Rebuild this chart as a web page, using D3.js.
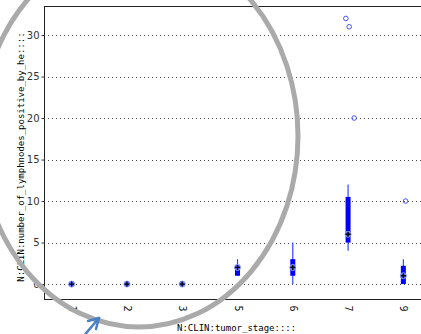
<!DOCTYPE html>
<html>
<head>
<meta charset="utf-8">
<script src="https://cdn.jsdelivr.net/npm/d3@7"></script>
<style>
  body { margin: 0; background: #fff; }
  svg { display: block; }
</style>
</head>
<body>
<svg id="chart" width="421" height="334"></svg>
<script>
// box plot data per tumor stage
let stages = ['1', '2', '3', '5', '6', '7', '9'];
let whiskerLow = [0, 0, 0, 1, 0, 4, 0];
let q1 = [0, 0, 0, 1, 1, 5, 0];
let median = [0, 0, 0, 2, 2, 6, 1];
let q3 = [0, 0, 0, 2.3, 3, 10.5, 2.2];
let whiskerHigh = [0, 0, 0, 3, 5, 12, 3];

// outliers (jitter is a fraction of the category step)
let outlierStage = ['7', '7', '7', '9'];
let outlierValue = [32, 31, 20, 10];
let outlierJitter = [-0.04, 0.02, 0.11, 0.04];

let yTicks = [0, 5, 10, 15, 20, 25, 30];

let svg = d3.select('#chart');

let plotLeft = 44, plotTop = 6, plotBottom = 299, plotRight = 431;

let x = d3.scalePoint()
  .domain(stages)
  .range([plotLeft, plotRight])
  .padding(0.5);

let y = d3.scaleLinear()
  .domain([-1.8, 33.5])
  .range([plotBottom, plotTop]);

// grid lines
svg.append('g')
  .selectAll('line')
  .data(yTicks)
  .enter()
  .append('line')
  .attr('x1', plotLeft)
  .attr('x2', 421)
  .attr('y1', d => Math.round(y(d)) + 0.5)
  .attr('y2', d => Math.round(y(d)) + 0.5)
  .attr('stroke', '#444')
  .attr('stroke-dasharray', '1,3');

// y axis
let yAxis = svg.append('g')
  .attr('transform', 'translate(' + (plotLeft + 0.5) + ',0)')
  .call(d3.axisLeft(y).tickValues(yTicks).tickSize(3).tickPadding(2));
yAxis.select('.domain').remove();
yAxis.selectAll('text')
  .attr('font-family', 'DejaVu Sans')
  .attr('font-size', 10)
  .attr('fill', '#333');
yAxis.selectAll('line').attr('stroke', '#333');

// x axis labels (rotated)
let xAxis = svg.append('g')
  .attr('transform', 'translate(0,' + (plotBottom + 0.5) + ')')
  .call(d3.axisBottom(x).tickSize(0).tickPadding(0));
xAxis.select('.domain').remove();
xAxis.selectAll('text')
  .attr('font-family', 'DejaVu Sans Mono')
  .attr('font-size', 10)
  .attr('fill', '#111')
  .attr('text-anchor', 'start')
  .attr('dy', null)
  .attr('transform', 'rotate(90) translate(6,3.5)')
  .attr('y', 0);

// frame
svg.append('line')
  .attr('x1', plotLeft + 0.5).attr('x2', plotLeft + 0.5)
  .attr('y1', plotTop).attr('y2', plotBottom + 0.5)
  .attr('stroke', '#222');
svg.append('line')
  .attr('x1', plotLeft).attr('x2', 421)
  .attr('y1', plotTop + 0.5).attr('y2', plotTop + 0.5)
  .attr('stroke', '#222');
svg.append('line')
  .attr('x1', plotLeft).attr('x2', 421)
  .attr('y1', plotBottom + 0.5).attr('y2', plotBottom + 0.5)
  .attr('stroke', '#222');

// boxes
let box = svg.append('g')
  .selectAll('g')
  .data(stages)
  .enter()
  .append('g')
  .attr('transform', s => 'translate(' + x(s) + ',0)');

box.append('line')
  .attr('x1', 0).attr('x2', 0)
  .attr('y1', (s, i) => y(whiskerLow[i]))
  .attr('y2', (s, i) => y(whiskerHigh[i]))
  .attr('stroke', '#3344ff')
  .attr('stroke-width', 1.2);

box.append('rect')
  .attr('x', -2.5)
  .attr('width', 5)
  .attr('y', (s, i) => y(q3[i]))
  .attr('height', (s, i) => y(q1[i]) - y(q3[i]))
  .attr('fill', '#0000ff');

box.append('circle')
  .attr('cy', (s, i) => y(median[i]))
  .attr('r', 3)
  .attr('fill', '#5566ff')
  .attr('stroke', '#8899ff')
  .attr('stroke-width', 1);

box.append('path')
  .attr('d', (s, i) => {
    let cy = y(median[i]);
    return 'M-2.5,' + cy + 'H2.5M0,' + (cy - 2.5) + 'V' + (cy + 2.5);
  })
  .attr('stroke', '#000')
  .attr('stroke-width', 1.3);

// outliers
svg.append('g')
  .selectAll('circle')
  .data(outlierValue)
  .enter()
  .append('circle')
  .attr('cx', (v, i) => x(outlierStage[i]) + outlierJitter[i] * x.step())
  .attr('cy', v => y(v))
  .attr('r', 2.3)
  .attr('fill', 'none')
  .attr('stroke', '#4455ff')
  .attr('stroke-width', 1);

// axis titles
svg.append('text')
  .attr('x', 177)
  .attr('y', 331)
  .attr('font-family', 'DejaVu Sans Mono')
  .attr('font-size', 9)
  .attr('fill', '#000')
  .text('N:CLIN:tumor_stage::::');

svg.append('text')
  .attr('transform', 'translate(24,157) rotate(-90)')
  .attr('text-anchor', 'middle')
  .attr('font-family', 'DejaVu Sans Mono')
  .attr('font-size', 9)
  .attr('fill', '#000')
  .text('N:CLIN:number_of_lymphnodes_positive_by_he::::');

// annotation ellipse and arrow
svg.append('ellipse')
  .attr('cx', 139)
  .attr('cy', 136)
  .attr('rx', 159)
  .attr('ry', 191)
  .attr('fill', 'none')
  .attr('stroke', '#aaa')
  .attr('stroke-width', 5);

svg.append('g')
  .attr('stroke', '#4a80c4')
  .attr('stroke-width', 2.5)
  .attr('stroke-linecap', 'round')
  .selectAll('line')
  .data([[82, 338, 99, 318], [99, 318, 88, 321], [99, 318, 96, 329]])
  .enter()
  .append('line')
  .attr('x1', d => d[0]).attr('y1', d => d[1])
  .attr('x2', d => d[2]).attr('y2', d => d[3]);
</script>
</body>
</html>
